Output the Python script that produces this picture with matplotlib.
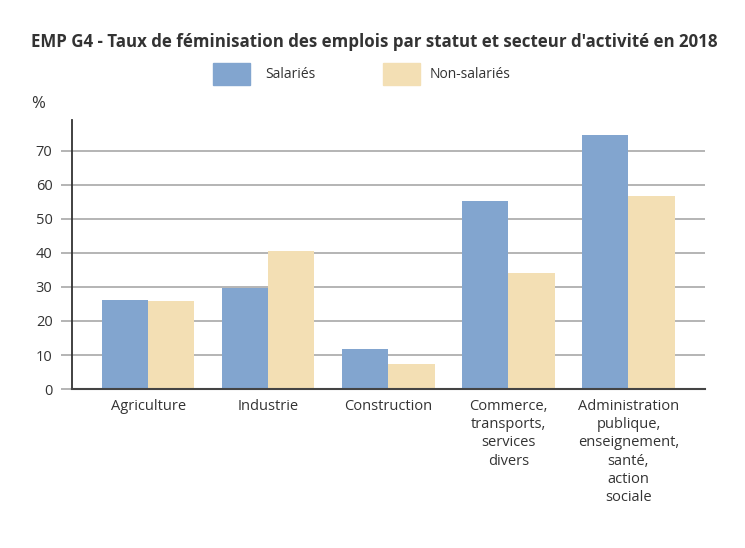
import numpy as np
import matplotlib
matplotlib.use("Agg")
import matplotlib.pyplot as plt
from matplotlib.patches import Rectangle

plt.rcParams['font.family'] = ['Open Sans', 'DejaVu Sans']

# Data
categories = ["Agriculture", "Industrie", "Construction",
              "Commerce,\ntransports,\nservices\ndivers",
              "Administration\npublique,\nenseignement,\nsanté,\naction\nsociale"]
salaries = [26.2, 29.7, 11.8, 55.3, 74.7]
non_salaries = [26.0, 40.6, 7.4, 34.1, 56.8]
yticks = [0, 10, 20, 30, 40, 50, 60, 70]

blue = "#82a5cf"
beige = "#f3dfb4"

fig = plt.figure(figsize=(7.45, 5.48), dpi=100)
ax = fig.add_axes([0.0966, 0.290, 0.850, 0.491])

x = np.arange(len(categories))
w = 0.385
ax.bar(x - w / 2, salaries, w, color=blue, zorder=2)
ax.bar(x + w / 2, non_salaries, w, color=beige, zorder=2)

ax.set_xlim(-0.635, 4.64)
ax.set_ylim(0, 79)
ax.set_yticks(yticks)
ax.yaxis.grid(True, color="#a8a8a8", linewidth=1.2)
ax.set_axisbelow(True)
ax.tick_params(axis="y", length=8, color="#a8a8a8", width=1.2,
               labelsize=10.5, labelcolor="#333333", pad=6)
ax.set_xticks(x)
ax.set_xticklabels(categories, fontsize=10.5, color="#333333", linespacing=1.3)
ax.tick_params(axis="x", length=0, pad=7)

for s in ["top", "right"]:
    ax.spines[s].set_visible(False)
ax.spines["left"].set_color("#333333")
ax.spines["left"].set_linewidth(1.3)
ax.spines["bottom"].set_color("#444444")
ax.spines["bottom"].set_linewidth(1.5)

# Title, legend, unit
fig.text(0.503, 0.923, "EMP G4 - Taux de féminisation des emplois par statut et secteur d'activité en 2018",
         ha="center", va="center", fontsize=12.2, fontweight="bold", color="#333333")
fig.patches.append(Rectangle((213 / 745, 1 - 85 / 548), 37 / 745, 22 / 548,
                             transform=fig.transFigure, color=blue))
fig.text(265 / 745, 1 - 75 / 548, "Salariés", fontsize=10, va="center", color="#333333")
fig.patches.append(Rectangle((383 / 745, 1 - 85 / 548), 37 / 745, 22 / 548,
                             transform=fig.transFigure, color=beige))
fig.text(430 / 745, 1 - 75 / 548, "Non-salariés", fontsize=10, va="center", color="#333333")
fig.text(31 / 745, 1 - 104 / 548, "%", fontsize=12, va="center", color="#333333")

fig.savefig("out.png", dpi=100)
